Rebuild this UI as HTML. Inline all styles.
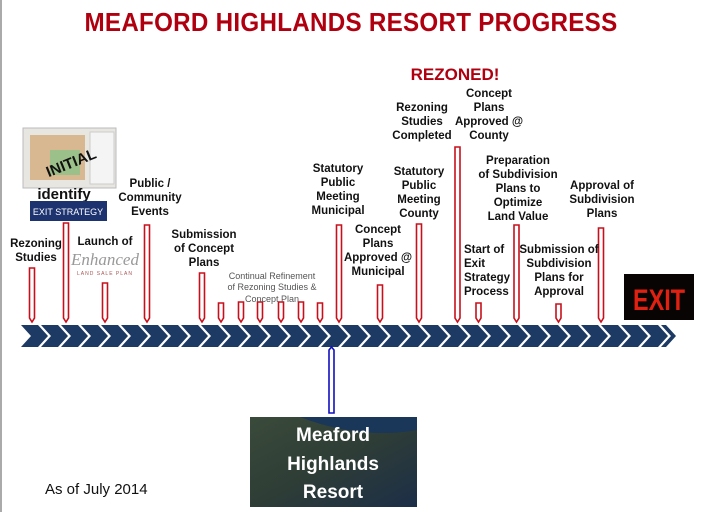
<!DOCTYPE html>
<html><head><meta charset="utf-8"><style>
body{margin:0;background:#fff;}
svg{display:block;font-family:"Liberation Sans",sans-serif;}
</style></head><body>
<svg width="701" height="512" viewBox="0 0 701 512" xmlns="http://www.w3.org/2000/svg">
<rect x="0" y="0" width="701" height="512" fill="#fff"/>
<line x1="1" y1="0" x2="1" y2="512" stroke="#aaa" stroke-width="2"/>
<text x="351" y="31" text-anchor="middle" font-size="26" font-weight="bold" fill="#b00010" style="letter-spacing:0.3px" textLength="533" lengthAdjust="spacingAndGlyphs">MEAFORD HIGHLANDS RESORT PROGRESS</text>
<text x="455" y="80" text-anchor="middle" font-size="17" font-weight="bold" fill="#b00010">REZONED!</text>

<g fill="#1c3a63">
<script></script>
</g>
<g id="band" fill="#1c3a63"></g>

<!-- chevrons -->
<g fill="#1c3a63">
<polygon points="21,325 38,325 48,336 38,347 21,347 31,336"/>
<polygon points="41,325 58,325 68,336 58,347 41,347 51,336"/>
<polygon points="61,325 78,325 88,336 78,347 61,347 71,336"/>
<polygon points="81,325 98,325 108,336 98,347 81,347 91,336"/>
<polygon points="101,325 118,325 128,336 118,347 101,347 111,336"/>
<polygon points="121,325 138,325 148,336 138,347 121,347 131,336"/>
<polygon points="141,325 158,325 168,336 158,347 141,347 151,336"/>
<polygon points="161,325 178,325 188,336 178,347 161,347 171,336"/>
<polygon points="181,325 198,325 208,336 198,347 181,347 191,336"/>
<polygon points="201,325 218,325 228,336 218,347 201,347 211,336"/>
<polygon points="221,325 238,325 248,336 238,347 221,347 231,336"/>
<polygon points="241,325 258,325 268,336 258,347 241,347 251,336"/>
<polygon points="261,325 278,325 288,336 278,347 261,347 271,336"/>
<polygon points="281,325 298,325 308,336 298,347 281,347 291,336"/>
<polygon points="301,325 318,325 328,336 318,347 301,347 311,336"/>
<polygon points="321,325 338,325 348,336 338,347 321,347 331,336"/>
<polygon points="341,325 358,325 368,336 358,347 341,347 351,336"/>
<polygon points="361,325 378,325 388,336 378,347 361,347 371,336"/>
<polygon points="381,325 398,325 408,336 398,347 381,347 391,336"/>
<polygon points="401,325 418,325 428,336 418,347 401,347 411,336"/>
<polygon points="421,325 438,325 448,336 438,347 421,347 431,336"/>
<polygon points="441,325 458,325 468,336 458,347 441,347 451,336"/>
<polygon points="461,325 478,325 488,336 478,347 461,347 471,336"/>
<polygon points="481,325 498,325 508,336 498,347 481,347 491,336"/>
<polygon points="501,325 518,325 528,336 518,347 501,347 511,336"/>
<polygon points="521,325 538,325 548,336 538,347 521,347 531,336"/>
<polygon points="541,325 558,325 568,336 558,347 541,347 551,336"/>
<polygon points="561,325 578,325 588,336 578,347 561,347 571,336"/>
<polygon points="581,325 598,325 608,336 598,347 581,347 591,336"/>
<polygon points="601,325 618,325 628,336 618,347 601,347 611,336"/>
<polygon points="621,325 638,325 648,336 638,347 621,347 631,336"/>
<polygon points="641,325 658,325 668,336 658,347 641,347 651,336"/>
<polygon points="661,325 666,325 676,336 666,347 661,347 671,336"/>
</g>

<!-- red markers -->
<g fill="#fff" stroke="#c8101c" stroke-width="1.6">
<path d="M29.5,268 h5 v50 l-2.5,4 l-2.5,-4 z"/>
<path d="M63.5,223 h5 v95 l-2.5,4 l-2.5,-4 z"/>
<path d="M102.5,283 h5 v35 l-2.5,4 l-2.5,-4 z"/>
<path d="M144.5,225 h5 v93 l-2.5,4 l-2.5,-4 z"/>
<path d="M199.5,273 h5 v45 l-2.5,4 l-2.5,-4 z"/>
<path d="M218.5,303 h5 v15 l-2.5,4 l-2.5,-4 z"/>
<path d="M238.5,302 h5 v16 l-2.5,4 l-2.5,-4 z"/>
<path d="M257.5,302 h5 v16 l-2.5,4 l-2.5,-4 z"/>
<path d="M278.5,302 h5 v16 l-2.5,4 l-2.5,-4 z"/>
<path d="M298.5,302 h5 v16 l-2.5,4 l-2.5,-4 z"/>
<path d="M317.5,303 h5 v15 l-2.5,4 l-2.5,-4 z"/>
<path d="M336.5,225 h5 v93 l-2.5,4 l-2.5,-4 z"/>
<path d="M377.5,285 h5 v33 l-2.5,4 l-2.5,-4 z"/>
<path d="M416.5,224 h5 v94 l-2.5,4 l-2.5,-4 z"/>
<path d="M455,147 h5 v171 l-2.5,4 l-2.5,-4 z"/>
<path d="M476,303 h5 v15 l-2.5,4 l-2.5,-4 z"/>
<path d="M514,225 h5 v93 l-2.5,4 l-2.5,-4 z"/>
<path d="M556,304 h5 v14 l-2.5,4 l-2.5,-4 z"/>
<path d="M598.5,228 h5 v90 l-2.5,4 l-2.5,-4 z"/>
</g>
<!-- blue marker -->
<path d="M329,350 l2.5,-3 l2.5,3 v63 h-5 z" fill="#fff" stroke="#1010c0" stroke-width="1.6"/>

<!-- labels -->
<g font-size="11.5" font-weight="bold" fill="#111" text-anchor="middle">
<text x="36" y="247">Rezoning</text><text x="36" y="261">Studies</text>
<text x="105" y="245">Launch of</text>
<text x="150" y="187">Public /</text><text x="150" y="201">Community</text><text x="150" y="215">Events</text>
<text x="204" y="238">Submission</text><text x="204" y="252">of Concept</text><text x="204" y="266">Plans</text>
<text x="338" y="172">Statutory</text><text x="338" y="186">Public</text><text x="338" y="200">Meeting</text><text x="338" y="214">Municipal</text>
<text x="378" y="233">Concept</text><text x="378" y="247">Plans</text><text x="378" y="261">Approved @</text><text x="378" y="275">Municipal</text>
<text x="419" y="175">Statutory</text><text x="419" y="189">Public</text><text x="419" y="203">Meeting</text><text x="419" y="217">County</text>
<text x="422" y="111">Rezoning</text><text x="422" y="125">Studies</text><text x="422" y="139">Completed</text>
<text x="489" y="97">Concept</text><text x="489" y="111">Plans</text><text x="489" y="125">Approved @</text><text x="489" y="139">County</text>
<text x="518" y="164">Preparation</text><text x="518" y="178">of Subdivision</text><text x="518" y="192">Plans to</text><text x="518" y="206">Optimize</text><text x="518" y="220">Land Value</text>
<text x="602" y="189">Approval of</text><text x="602" y="203">Subdivision</text><text x="602" y="217">Plans</text>
<text x="559" y="253">Submission of</text><text x="559" y="267">Subdivision</text><text x="559" y="281">Plans for</text><text x="559" y="295">Approval</text>
</g>
<g font-size="11.5" font-weight="bold" fill="#111">
<text x="464" y="253">Start of</text><text x="464" y="267">Exit</text><text x="464" y="281">Strategy</text><text x="464" y="295">Process</text>
</g>
<g font-size="9" fill="#555" text-anchor="middle">
<text x="272" y="279">Continual Refinement</text><text x="272" y="290">of Rezoning Studies &amp;</text><text x="272" y="302">Concept Plan</text>
</g>
<text x="105" y="265" text-anchor="middle" font-family="Liberation Serif" font-style="italic" font-size="17" fill="#999">Enhanced</text>
<text x="105" y="275" text-anchor="middle" font-size="5" fill="#a55" letter-spacing="1">LAND SALE PLAN</text>

<!-- initial image -->
<rect x="23" y="128" width="93" height="60" fill="#e8e6e0" stroke="#bbb"/>
<rect x="30" y="135" width="55" height="45" fill="#d8b890"/>
<rect x="50" y="150" width="30" height="25" fill="#9cc08a"/>
<rect x="90" y="132" width="24" height="52" fill="#f4f4f4" stroke="#ccc"/>
<text x="70" y="168" font-size="15" font-weight="bold" fill="#111" transform="rotate(-22 70 160)" text-anchor="middle">INITIAL</text>
<text x="64" y="199" text-anchor="middle" font-size="15" font-weight="bold" fill="#111">identify</text>
<rect x="30" y="201" width="77" height="20" fill="#1c3370"/>
<text x="68" y="215" text-anchor="middle" font-size="9" fill="#fff">EXIT  STRATEGY</text>

<!-- EXIT sign -->
<rect x="624" y="274" width="70" height="46" fill="#080404"/>
<text x="659" y="310" text-anchor="middle" font-size="30" font-weight="bold" fill="#e02010" textLength="52" lengthAdjust="spacingAndGlyphs">EXIT</text>

<!-- bottom image -->
<defs><linearGradient id="g" x1="0" y1="0" x2="1" y2="1">
<stop offset="0" stop-color="#3a4a3a"/><stop offset="0.5" stop-color="#2e3d36"/><stop offset="1" stop-color="#1c2e48"/></linearGradient></defs>
<rect x="250" y="417" width="167" height="90" fill="url(#g)"/>
<path d="M300,417 Q360,440 417,430 V417 Z" fill="#1a3658"/>
<g font-size="19" font-weight="bold" fill="#fff" text-anchor="middle">
<text x="333" y="441">Meaford</text><text x="333" y="470">Highlands</text><text x="333" y="498">Resort</text>
</g>
<text x="45" y="494" font-size="15" fill="#111">As of July 2014</text>
</svg>
</body></html>
